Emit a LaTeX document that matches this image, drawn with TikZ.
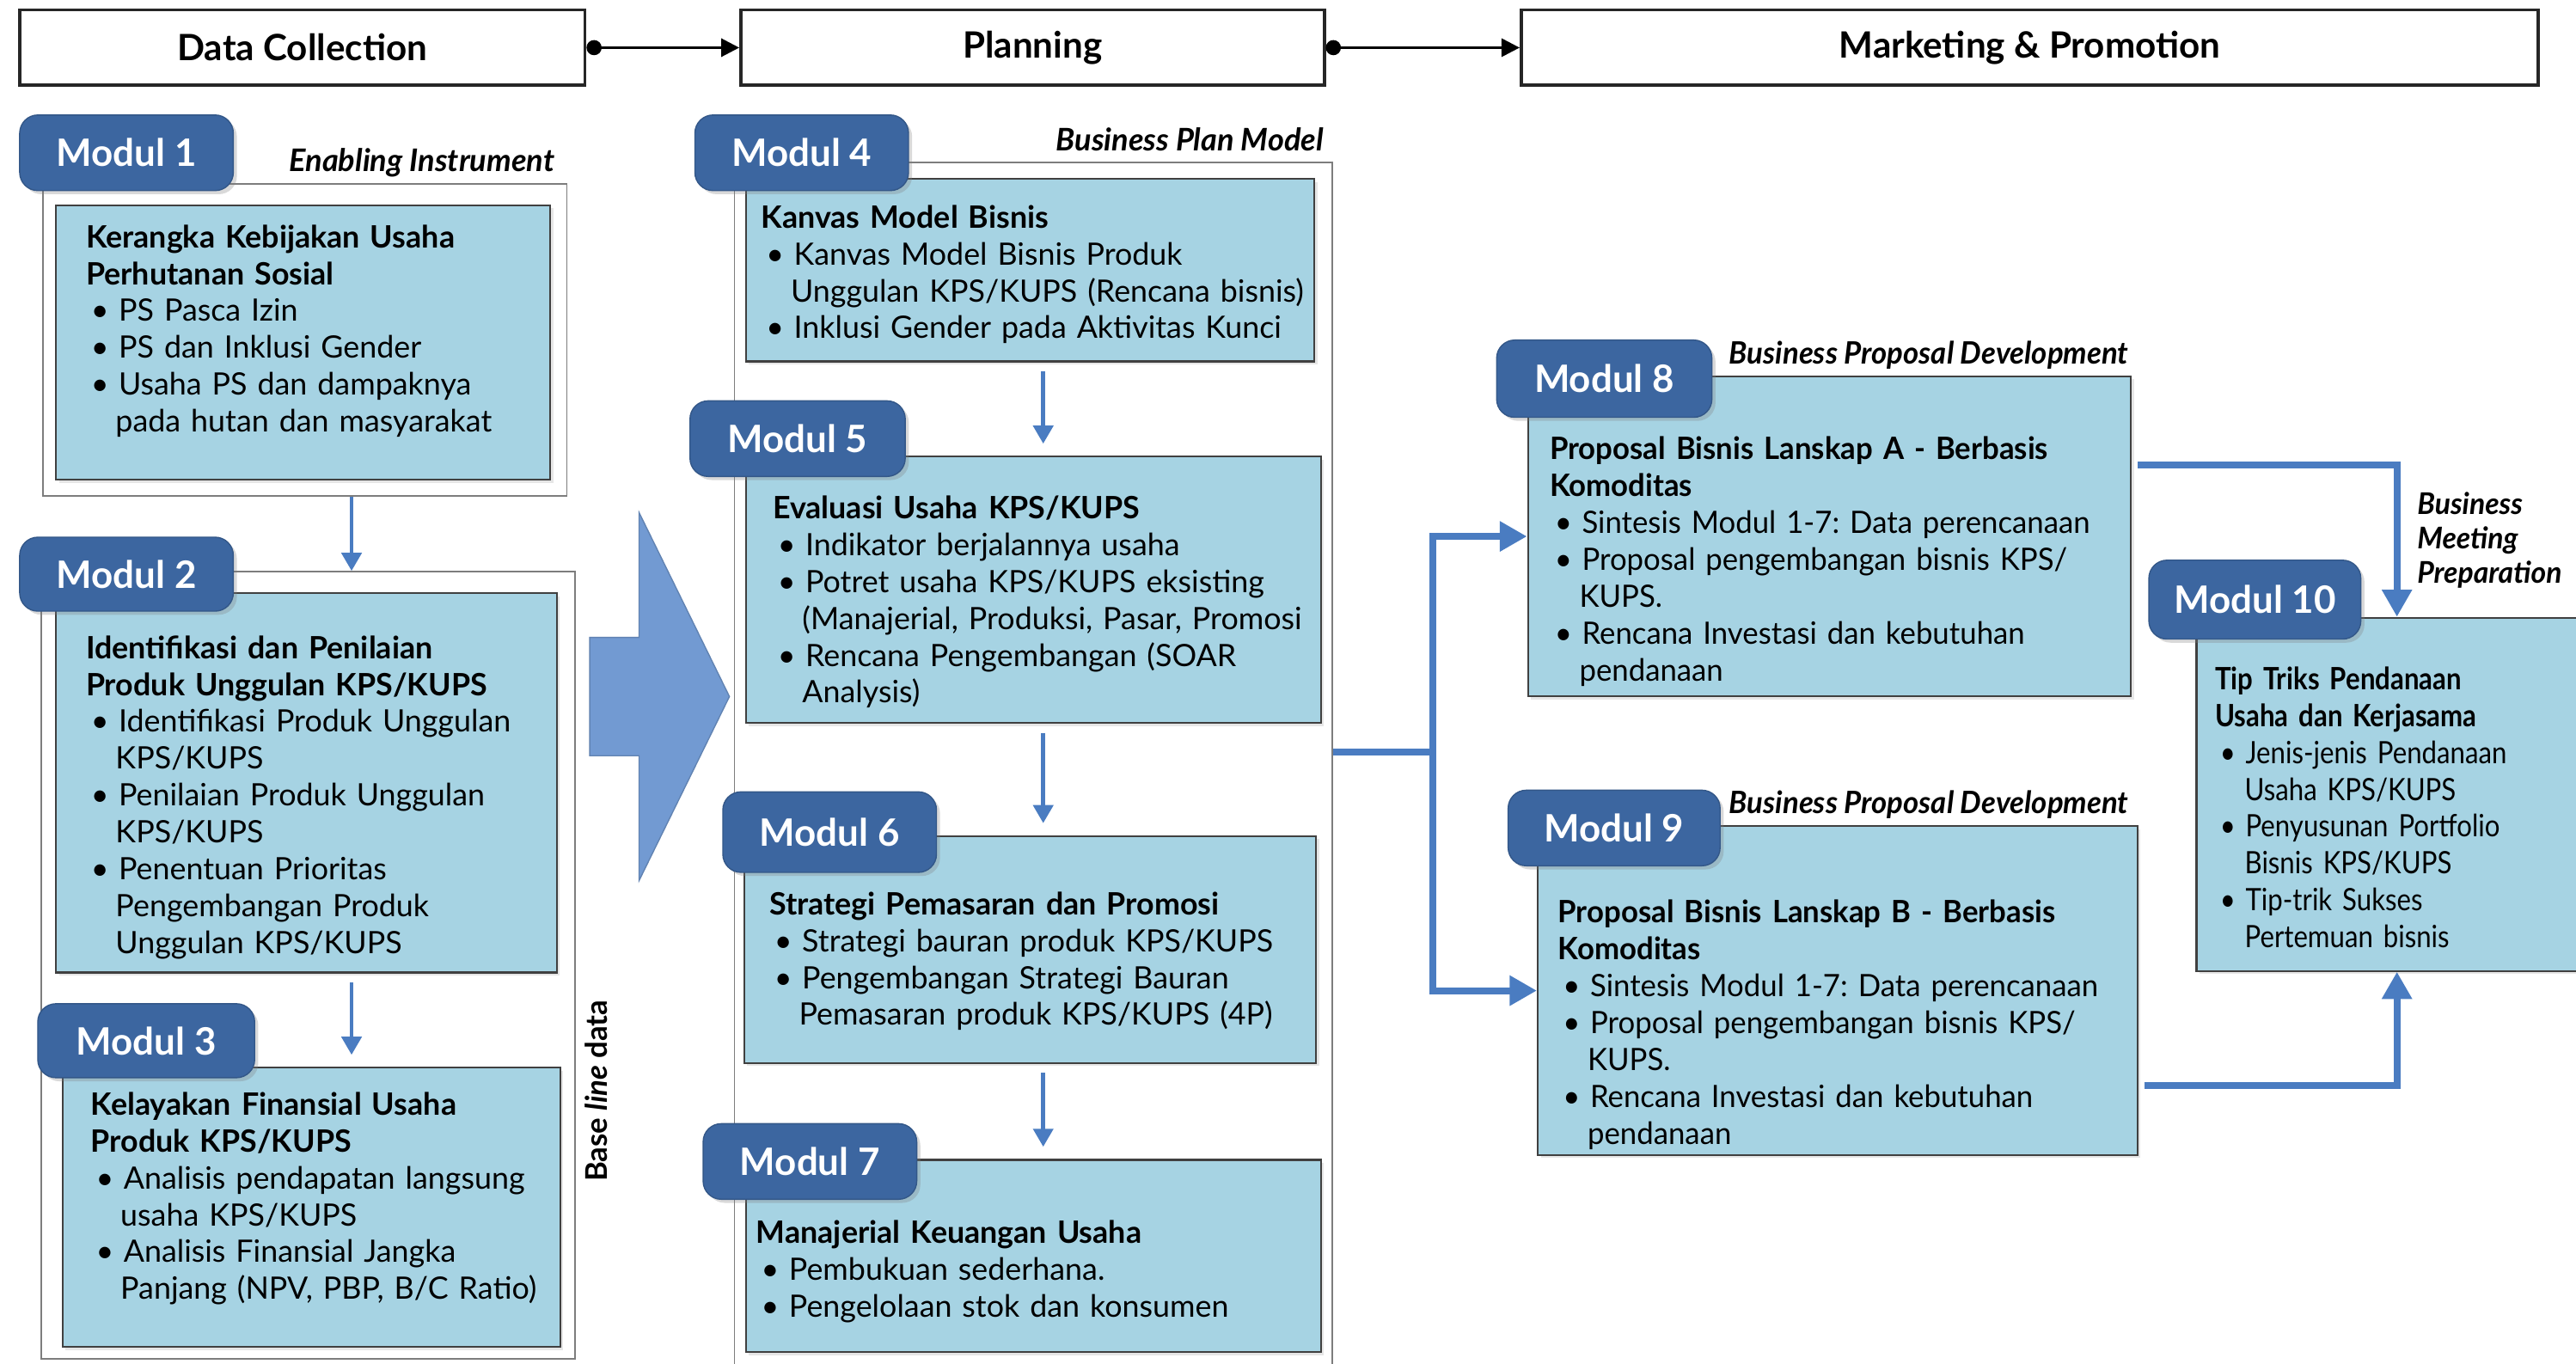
\documentclass[tikz,border=0pt]{standalone}
\usepackage{fontspec}
\setmainfont{Lato}
\newfontfamily\condfont{Lato}[FakeStretch=0.97]
\newfontfamily\narrowfont{Lato}[FakeStretch=0.87]
\usepackage{enumitem}
\usetikzlibrary{positioning,fit,arrows.meta,shadows}
\frenchspacing

\newlength\pu
\setlength\pu{0.019114cm}

\definecolor{modblue}{RGB}{60,102,160}
\definecolor{boxblue}{RGB}{166,211,227}
\definecolor{lineblue}{RGB}{74,124,193}
\definecolor{arrowblue}{RGB}{114,154,210}
\definecolor{framegray}{RGB}{125,125,125}

\newlist{blist}{itemize}{1}
\setlist[blist]{label=\textbullet, leftmargin=18\pu, labelsep=6\pu, labelwidth=9\pu, align=left,
  itemsep=0pt, topsep=0pt, parsep=0pt, partopsep=0pt}

\tikzset{
  header/.style={draw=black!85, line width=1.1pt, fill=white, inner sep=0pt,
    minimum height=46\pu, font=\bfseries\fontsize{12}{14}\selectfont},
  outerframe/.style={draw=framegray, line width=0.5pt, inner sep=0pt},
  cbox/.style={draw=black!75, line width=0.6pt, fill=boxblue, inner sep=0pt,
    drop shadow={opacity=0.2, shadow xshift=1pt, shadow yshift=-1pt}},
  ctext/.style={anchor=north west, inner sep=0pt, align=left, text width=420\pu,
    font=\fontsize{10.2}{12.2}\selectfont},
  modlbl/.style={fill=modblue, draw=modblue!85!black, rounded corners=6pt, inner sep=0pt,
    minimum width=130\pu, minimum height=46\pu,
    text=white, font=\bfseries\fontsize{12.5}{15}\selectfont,
    drop shadow={opacity=0.3, shadow xshift=1.2pt, shadow yshift=-1.2pt}},
  tagtext/.style={inner sep=0pt, font=\bfseries\itshape\fontsize{10.3}{12}\selectfont},
  flow/.style={draw=black, line width=0.9pt, {Circle[length=5pt]}-{Triangle[length=6pt,width=6pt]}},
  godown/.style={draw=lineblue, line width=1.4pt, shorten <=3pt, shorten >=4pt,
    -{Triangle[length=6pt,width=6.5pt]}},
  conn/.style={draw=lineblue, line width=2.3pt},
  connhead/.style={conn, -{Triangle[length=9pt,width=9.5pt]}}
}

\begin{document}
\begin{tikzpicture}[x=\pu, y=-\pu]
\useasboundingbox (0,0) rectangle (1568,830);

\node[header, minimum width=344\pu] (hdc) at (184,29) {Data Collection};
\node[header, minimum width=355\pu] (hpl) at (628.5,29) {Planning};
\node[header, minimum width=619\pu] (hmp) at (1235.5,29) {Marketing \& Promotion};
\draw[flow] (hdc.east) -- (hpl.west);
\draw[flow] (hpl.east) -- (hmp.west);

\node[outerframe, fit={(26,112) (345,302)}] (f1) {};
\node[outerframe, fit={(25,348) (350,827)}] (f23) {};
\node[outerframe, fit={(447,99) (811,840)}] (f2) {};

\node[tagtext, anchor=east] (ei) at (338,99) {Enabling Instrument};
\node[tagtext, anchor=east] (bpm) at (806,85) {Business Plan Model};
\node[tagtext, rotate=90, font=\bfseries\fontsize{9.9}{11}\selectfont] (bld) at (363,664) {Base \textit{line} data};
\node[tagtext, anchor=east, font=\bfseries\itshape\condfont\fontsize{10.2}{12}\selectfont] (bpd8) at (1296,216) {Business Proposal Development};
\node[tagtext, anchor=east, font=\bfseries\itshape\condfont\fontsize{10.2}{12}\selectfont] (bpd9) at (1296,490) {Business Proposal Development};
\node[tagtext, anchor=north west, align=left, font=\bfseries\itshape\condfont\fontsize{9.9}{11.5}\selectfont] (bmp) at (1471,299) {Business\\Meeting\\Preparation};

\filldraw[fill=arrowblue, draw=arrowblue!85!black, line width=0.4pt] (359,388) -- (389,388) -- (389,312) -- (444,424) -- (389,536) -- (389,460) -- (359,460) -- cycle;

\node[cbox, fit={(34,125) (335,292)}] (c1) {};
\node[cbox, fit={(34,361) (339,592)}] (c2) {};
\node[cbox, fit={(38,650) (341,820)}] (c3) {};
\node[cbox, fit={(454,109) (800,220)}] (c4) {};
\node[cbox, fit={(454,278) (804,440)}] (c5) {};
\node[cbox, fit={(453,509) (801,647)}] (c6) {};
\node[cbox, fit={(454,706) (804,823)}] (c7) {};
\node[cbox, fit={(930,229) (1297,424)}] (c8) {};
\node[cbox, fit={(936,503) (1301,703)}] (c9) {};
\node[cbox, fit={(1337,376) (1580,591)}] (c10) {};

\node[ctext] (t1) at (52,136.5) {\textbf{Kerangka Kebijakan Usaha\newline Perhutanan Sosial}
  \begin{blist}
  \item PS Pasca Izin
  \item PS dan Inklusi Gender
  \item Usaha PS dan dampaknya\newline pada hutan dan masyarakat
  \end{blist}};
\node[ctext] (t2) at (52,386.5) {\textbf{Identifikasi dan Penilaian\newline Produk Unggulan KPS/KUPS}
  \begin{blist}
  \item Identifikasi Produk Unggulan\newline KPS/KUPS
  \item Penilaian Produk Unggulan\newline KPS/KUPS
  \item Penentuan Prioritas\newline Pengembangan Produk\newline Unggulan KPS/KUPS
  \end{blist}};
\node[ctext] (t3) at (55,664.5) {\textbf{Kelayakan Finansial Usaha\newline Produk KPS/KUPS}
  \begin{blist}
  \item Analisis pendapatan langsung\newline usaha KPS/KUPS
  \item Analisis Finansial Jangka\newline Panjang (NPV, PBP, B/C Ratio)
  \end{blist}};
\node[ctext] (t4) at (463,124.5) {\textbf{Kanvas Model Bisnis}
  \begin{blist}
  \item Kanvas Model Bisnis Produk\newline Unggulan KPS/KUPS (Rencana bisnis)
  \item Inklusi Gender pada Aktivitas Kunci
  \end{blist}};
\node[ctext] (t5) at (470,301.5) {\textbf{Evaluasi Usaha KPS/KUPS}
  \begin{blist}
  \item Indikator berjalannya usaha
  \item Potret usaha KPS/KUPS eksisting\newline (Manajerial, Produksi, Pasar, Promosi
  \item Rencana Pengembangan (SOAR\newline Analysis)
  \end{blist}};
\node[ctext] (t6) at (468,542.5) {\textbf{Strategi Pemasaran dan Promosi}
  \begin{blist}
  \item Strategi bauran produk KPS/KUPS
  \item Pengembangan Strategi Bauran\newline Pemasaran produk KPS/KUPS (4P)
  \end{blist}};
\node[ctext] (t7) at (460,742.5) {\textbf{Manajerial Keuangan Usaha}
  \begin{blist}
  \item Pembukuan sederhana.
  \item Pengelolaan stok dan konsumen
  \end{blist}};
\node[ctext, font=\condfont\fontsize{10.2}{12.2}\selectfont] (t8) at (943,265.5) {\textbf{Proposal Bisnis Lanskap A - Berbasis\newline Komoditas}
  \begin{blist}
  \item Sintesis Modul 1-7: Data perencanaan
  \item Proposal pengembangan bisnis KPS/\newline KUPS.
  \item Rencana Investasi dan kebutuhan\newline pendanaan
  \end{blist}};
\node[ctext, font=\condfont\fontsize{10.2}{12.2}\selectfont] (t9) at (948,547.5) {\textbf{Proposal Bisnis Lanskap B - Berbasis\newline Komoditas}
  \begin{blist}
  \item Sintesis Modul 1-7: Data perencanaan
  \item Proposal pengembangan bisnis KPS/\newline KUPS.
  \item Rencana Investasi dan kebutuhan\newline pendanaan
  \end{blist}};
\node[ctext, font=\narrowfont\fontsize{10.2}{12.2}\selectfont] (t10) at (1348,405.5) {\textbf{Tip Triks Pendanaan\newline Usaha dan Kerjasama}
  \begin{blist}
  \item Jenis-jenis Pendanaan\newline Usaha KPS/KUPS
  \item Penyusunan Portfolio\newline Bisnis KPS/KUPS
  \item Tip-trik Sukses\newline Pertemuan bisnis
  \end{blist}};

\node[modlbl] (m1) at (77,93) {Modul 1};
\node[modlbl, minimum height=45\pu] (m2) at (77,349.5) {Modul 2};
\node[modlbl, minimum width=132\pu, minimum height=45\pu] (m3) at (89,633.5) {Modul 3};
\node[modlbl] (m4) at (488,93) {Modul 4};
\node[modlbl, minimum width=131\pu] (m5) at (485.5,267) {Modul 5};
\node[modlbl, minimum height=49\pu] (m6) at (505,506.5) {Modul 6};
\node[modlbl] (m7) at (493,707) {Modul 7};
\node[modlbl, minimum width=131\pu, minimum height=47\pu] (m8) at (976.5,230.5) {Modul 8};
\node[modlbl, minimum width=129\pu] (m9) at (982.5,504) {Modul 9};
\node[modlbl, minimum width=129\pu, minimum height=48\pu] (m10) at (1372.5,365) {Modul 10};

\coordinate (ax1) at (214,0);
\coordinate (ax2) at (635,0);
\coordinate (ax10) at (1459,0);
\coordinate (split) at (872,458);

\draw[godown, shorten <=0pt, shorten >=0pt] (f1.south -| ax1) -- (f23.north -| ax1);
\draw[godown] (c2.south -| ax1) -- (c3.north -| ax1);
\draw[godown] (c4.south -| ax2) -- (c5.north -| ax2);
\draw[godown] (c5.south -| ax2) -- (c6.north -| ax2);
\draw[godown] (c6.south -| ax2) -- (c7.north -| ax2);

\draw[conn] (f2.east |- split) -- (split);
\draw[connhead] (split) |- (c8.west);
\draw[connhead] (split) |- (c9.west);
\draw[connhead] ([xshift=2pt,yshift=43.5\pu]c8.east) -| (c10.north -| ax10);
\draw[connhead] ([xshift=2pt,yshift=-58\pu]c9.east) -| (c10.south -| ax10);
\end{tikzpicture}
\end{document}
